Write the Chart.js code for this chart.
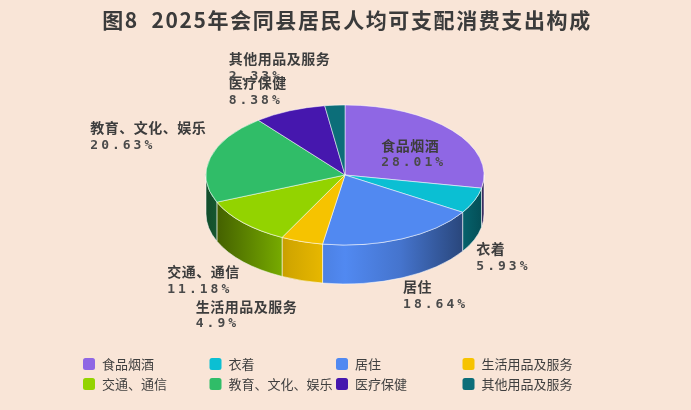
<!DOCTYPE html>
<html lang="zh-CN">
<head>
<meta charset="UTF-8">
<title>2025年会同县居民人均可支配消费支出构成</title>
<script src="https://cdn.jsdelivr.net/npm/chart.js"></script>
<style>
    html, body {
        margin: 0;
        padding: 0;
        background-color: #f9e5d7;
    }
    #wrap {
        width: 691px;
        height: 410px;
        position: relative;
    }
</style>
</head>
<body>
<div id="wrap"><canvas id="pie"></canvas></div>
<script>
    const categories = ['食品烟酒', '衣着', '居住', '生活用品及服务', '交通、通信', '教育、文化、娱乐', '医疗保健', '其他用品及服务'];
    const shares = [28.01, 5.93, 18.64, 4.9, 11.18, 20.63, 8.38, 2.33];
    const colors = ['#8f67e4', '#0bbfd3', '#5189f1', '#f6c300', '#93d300', '#30bd68', '#4617ae', '#0c6e79'];
    const titleText = '图8  2025年会同县居民人均可支配消费支出构成';

    // where the flattened pie sits and how thick it is
    const pie3d = { cx: 345, cy: 175, rx: 139, ry: 70, depth: 39 };
    // label offset from the rim point at the middle of each slice
    const labelNudge = [[-71, 8], [2, 41], [1, 41], [-106, 58], [-76, 42], [-120, -37], [-61, -35], [-106, -53]];

    function shade(hex, k) {
        const n = parseInt(hex.slice(1), 16);
        const r = Math.round(((n >> 16) & 255) * k);
        const g = Math.round(((n >> 8) & 255) * k);
        const b = Math.round((n & 255) * k);
        return 'rgb(' + r + ',' + g + ',' + b + ')';
    }

    const pie3dPlugin = {
        id: 'pie3d',
        beforeDatasetsDraw(chart) {
            const ctx = chart.ctx;
            const arcs = chart.getDatasetMeta(0).data;
            const { cx, cy, rx, ry, depth } = pie3d;

            // side walls, only the front half is visible
            ctx.save();
            arcs.forEach((arc, i) => {
                const s = Math.max(arc.startAngle, 0);
                const e = Math.min(arc.endAngle, Math.PI);
                if (e <= s) return;
                const base = colors[i];
                const g = ctx.createLinearGradient(cx - rx, 0, cx + rx, 0);
                g.addColorStop(0, shade(base, 0.4));
                g.addColorStop(0.3, shade(base, 0.85));
                g.addColorStop(0.5, shade(base, 1));
                g.addColorStop(0.7, shade(base, 0.85));
                g.addColorStop(1, shade(base, 0.4));
                ctx.beginPath();
                ctx.ellipse(cx, cy, rx, ry, 0, s, e);
                ctx.ellipse(cx, cy + depth, rx, ry, 0, e, s, true);
                ctx.closePath();
                ctx.fillStyle = g;
                ctx.fill();
                ctx.strokeStyle = 'rgba(255,255,255,0.55)';
                ctx.lineWidth = 1;
                ctx.stroke();
            });
            ctx.restore();

            // squash the library's pie into the top face
            const r = arcs[0].outerRadius;
            ctx.save();
            ctx.translate(cx, cy);
            ctx.scale(rx / r, ry / r);
            ctx.translate(-arcs[0].x, -arcs[0].y);
        },
        afterDatasetsDraw(chart) {
            chart.ctx.restore();
        },
        afterDraw(chart) {
            const ctx = chart.ctx;
            const arcs = chart.getDatasetMeta(0).data;
            const { cx, cy, rx, ry } = pie3d;

            // title (drawn here so it can be letter-spaced)
            ctx.save();
            ctx.textAlign = 'center';
            ctx.textBaseline = 'middle';
            ctx.fillStyle = '#3b3b3b';
            ctx.font = 'bold 21px "Noto Sans CJK SC"';
            ctx.letterSpacing = '1.6px';
            ctx.fillText(titleText, 347, 20);
            ctx.restore();

            // slice labels
            ctx.save();
            ctx.textBaseline = 'top';
            ctx.textAlign = 'left';
            arcs.forEach((arc, i) => {
                const mid = (arc.startAngle + arc.endAngle) / 2;
                const x = cx + rx * Math.cos(mid) + labelNudge[i][0];
                const y = cy + ry * Math.sin(mid) + labelNudge[i][1];
                ctx.fillStyle = '#3d3d3d';
                ctx.font = 'bold 14px "Noto Sans CJK SC"';
                ctx.letterSpacing = '0.5px';
                ctx.fillText(chart.data.labels[i], x, y);
                ctx.fillStyle = '#4a4a4a';
                ctx.font = 'bold 13px "DejaVu Sans Mono"';
                ctx.letterSpacing = '3px';
                ctx.fillText(chart.data.datasets[0].data[i] + '%', x, y + 18);
            });
            ctx.restore();

            // legend, 4 columns x 2 rows
            ctx.save();
            ctx.textBaseline = 'middle';
            ctx.textAlign = 'left';
            ctx.font = '13px "Noto Sans CJK SC"';
            chart.data.labels.forEach((lab, i) => {
                const col = i % 4, row = Math.floor(i / 4);
                const x = 83 + col * 126.5;
                const y = 364 + row * 20;
                ctx.fillStyle = colors[i];
                ctx.beginPath();
                ctx.roundRect(x, y - 6, 12, 12, 2.5);
                ctx.fill();
                ctx.fillStyle = '#3f3f3f';
                ctx.fillText(lab, x + 19, y);
            });
            ctx.restore();
        }
    };

    new Chart(document.getElementById('pie'), {
        type: 'pie',
        data: {
            labels: categories,
            datasets: [{
                data: shares,
                backgroundColor: colors,
                borderColor: 'rgba(255,255,255,0.75)',
                borderWidth: 1
            }]
        },
        options: {
            responsive: true,
            maintainAspectRatio: false,
            animation: false,
            events: [],
            layout: { padding: { top: 40, bottom: 60, left: 0, right: 0 } },
            plugins: {
                legend: { display: false },
                tooltip: { enabled: false },
                title: { display: false }
            }
        },
        plugins: [pie3dPlugin]
    });
</script>
</body>
</html>
